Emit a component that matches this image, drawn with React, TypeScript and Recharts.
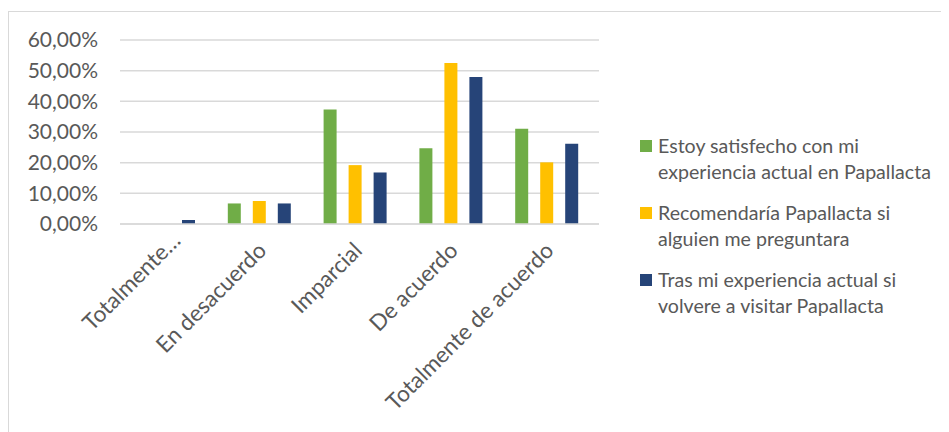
import React from "react";
import { BarChart, Bar, XAxis, YAxis, CartesianGrid, Legend } from "recharts";

const categories = [
  "Totalmente…",
  "En desacuerdo",
  "Imparcial",
  "De acuerdo",
  "Totalmente de acuerdo",
];
const satisfecho = [0, 6.7, 37.3, 24.7, 31.1];
const recomendaria = [0, 7.5, 19.2, 52.5, 20.1];
const volvere = [1.3, 6.7, 16.8, 47.9, 26.2];
const yTicks = [0, 10, 20, 30, 40, 50, 60];

const seriesNames = [
  "Estoy satisfecho con mi experiencia actual en Papallacta",
  "Recomendaría Papallacta si alguien me preguntara",
  "Tras mi experiencia actual si volvere a visitar Papallacta",
];
const legendLines = [
  ["Estoy satisfecho con mi", "experiencia actual en Papallacta"],
  ["Recomendaría Papallacta si", "alguien me preguntara"],
  ["Tras mi experiencia actual si", "volvere a visitar Papallacta"],
];
const colors = ["#70AD47", "#FFC000", "#264478"];

const data = categories.map((c, i) => ({
  name: c,
  s1: satisfecho[i],
  s2: recomendaria[i],
  s3: volvere[i],
}));

const FONT = "Lato, 'Open Sans', sans-serif";
const TEXT = "#595959";

const fmtPct = (v: number) => `${v.toFixed(2).replace(".", ",")}%`;

function XTick(props: any) {
  const { x, y, payload } = props;
  // truncated label sits a bit further along its own direction
  const shift = payload.value.endsWith("…") ? 10 : 0;
  const ax = x + 8 + shift;
  const ay = y + 20 - shift;
  return (
    <text
      x={ax}
      y={ay}
      transform={`rotate(-45, ${ax}, ${ay})`}
      textAnchor="end"
      fill={TEXT}
      fontSize={22.5}
      fontFamily={FONT}
    >
      {payload.value}
    </text>
  );
}

function LegendBox() {
  return (
    <div style={{ fontFamily: FONT, color: TEXT, fontSize: 19.6, width: 300 }}>
      {legendLines.map((lines, i) => (
        <div key={i} style={{ display: "flex", alignItems: "flex-start", marginBottom: 16 }}>
          <div
            style={{
              width: 12,
              height: 12,
              background: colors[i],
              marginTop: 7,
              marginRight: 6,
              flexShrink: 0,
            }}
          />
          <div style={{ lineHeight: "25.5px" }}>
            {lines.map((l, j) => (
              <div key={j}>{l}</div>
            ))}
          </div>
        </div>
      ))}
    </div>
  );
}

export default function App() {
  return (
    <div
      style={{
        marginTop: 3,
        width: 941,
        height: 421,
        borderTop: "1px solid #D9D9D9",
        borderLeft: "1px solid #D9D9D9",
        boxSizing: "border-box",
        overflow: "hidden",
        background: "#fff",
      }}
    >
      <BarChart
        width={940}
        height={420}
        data={data}
        margin={{ top: 28, right: 50, left: 0, bottom: 88 }}
        barSize={13}
        barGap={12}
      >
        <CartesianGrid vertical={false} stroke="#D9D9D9" strokeWidth={1.5} />
        <XAxis
          dataKey="name"
          interval={0}
          height={120}
          padding={{ left: -4, right: 4 }}
          axisLine={{ stroke: "#D9D9D9", strokeWidth: 1.5 }}
          tickLine={false}
          tick={<XTick />}
        />
        <YAxis
          width={111}
          domain={[0, 60]}
          ticks={yTicks}
          tickFormatter={fmtPct}
          axisLine={false}
          tickLine={false}
          tickMargin={16}
          tick={{ fill: TEXT, fontSize: 21, fontFamily: FONT }}
        />
        <Legend
          layout="vertical"
          align="right"
          verticalAlign="middle"
          content={() => <LegendBox />}
          wrapperStyle={{ position: "absolute", left: 631, top: 121, width: 300 }}
        />
        <Bar dataKey="s1" name={seriesNames[0]} fill={colors[0]} isAnimationActive={false} />
        <Bar dataKey="s2" name={seriesNames[1]} fill={colors[1]} isAnimationActive={false} />
        <Bar dataKey="s3" name={seriesNames[2]} fill={colors[2]} isAnimationActive={false} />
      </BarChart>
    </div>
  );
}
